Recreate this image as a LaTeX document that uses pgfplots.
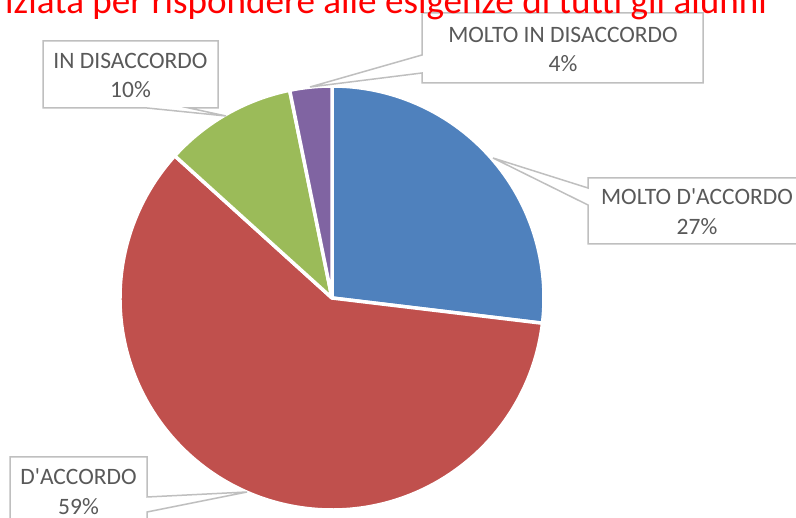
\documentclass[border=0pt]{standalone}
\usepackage{fontspec}
\setmainfont{Carlito}
\newfontfamily\labf{Carlito}
\usepackage{pgfplots}
\usepackage{pgfplotstable}
\pgfplotsset{compat=1.18}
\definecolor{blu}{HTML}{4F81BD}
\definecolor{rosso}{HTML}{C0504D}
\definecolor{verde}{HTML}{9BBB59}
\definecolor{viola}{HTML}{8064A2}
\definecolor{testo}{HTML}{595959}
\definecolor{bordo}{HTML}{BFBFBF}
\newcommand{\lab}{\labf\fontsize{23.5}{28}\selectfont}

% quote in percentuale, in senso orario dalle 12
\pgfplotstableread{
voce valore
MD  26.9
DA  59.8
ID  10.1
MID 3.2
}\torta
\pgfplotstablegetelem{0}{valore}\of\torta \let\vA\pgfplotsretval
\pgfplotstablegetelem{1}{valore}\of\torta \let\vB\pgfplotsretval
\pgfplotstablegetelem{2}{valore}\of\torta \let\vC\pgfplotsretval
\pgfplotstablegetelem{3}{valore}\of\torta \let\vD\pgfplotsretval
\def\cx{332}\def\cy{220}\def\R{212}
\pgfmathsetmacro{\aA}{90}
\pgfmathsetmacro{\aB}{\aA-3.6*\vA}
\pgfmathsetmacro{\aC}{\aB-3.6*\vB}
\pgfmathsetmacro{\aD}{\aC-3.6*\vC}
\pgfmathsetmacro{\aE}{\aD-3.6*\vD}
\pgfmathsetmacro{\xA}{\cx+\R*cos(\aA)}\pgfmathsetmacro{\yA}{\cy+\R*sin(\aA)}
\pgfmathsetmacro{\xB}{\cx+\R*cos(\aB)}\pgfmathsetmacro{\yB}{\cy+\R*sin(\aB)}
\pgfmathsetmacro{\xC}{\cx+\R*cos(\aC)}\pgfmathsetmacro{\yC}{\cy+\R*sin(\aC)}
\pgfmathsetmacro{\xD}{\cx+\R*cos(\aD)}\pgfmathsetmacro{\yD}{\cy+\R*sin(\aD)}

\begin{document}
\begin{tikzpicture}
\useasboundingbox (0,0) rectangle (796pt,518pt);
\clip (0,0) rectangle (796pt,518pt);
\begin{axis}[at={(0,0)},anchor=south west,width=796pt,height=518pt,scale only axis,
  xmin=0,xmax=796,ymin=0,ymax=518,hide axis,clip=false]
\addplot[fill=blu,draw=white,line width=3.5pt,line join=round] coordinates {(\cx,\cy) (\xA,\yA)} arc[start angle=\aA,end angle=\aB,radius=\R pt] -- cycle;
\addplot[fill=rosso,draw=white,line width=3.5pt,line join=round] coordinates {(\cx,\cy) (\xB,\yB)} arc[start angle=\aB,end angle=\aC,radius=\R pt] -- cycle;
\addplot[fill=verde,draw=white,line width=3.5pt,line join=round] coordinates {(\cx,\cy) (\xC,\yC)} arc[start angle=\aC,end angle=\aD,radius=\R pt] -- cycle;
\addplot[fill=viola,draw=white,line width=3.5pt,line join=round] coordinates {(\cx,\cy) (\xD,\yD)} arc[start angle=\aD,end angle=\aE,radius=\R pt] -- cycle;

% etichette a fumetto
\draw[bordo,line width=1.5pt,fill=white] (axis cs:422,435) -- (axis cs:422,445) -- (axis cs:310,431) -- (axis cs:422,463) -- (axis cs:422,505) -- (axis cs:703,505) -- (axis cs:703,435) -- cycle;
\draw[bordo,line width=1.5pt,fill=white] (axis cs:43,410) -- (axis cs:147,410) -- (axis cs:226,402) -- (axis cs:189,410) -- (axis cs:218,410) -- (axis cs:218,477) -- (axis cs:43,477) -- cycle;
\draw[bordo,line width=1.5pt,fill=white] (axis cs:588,274) -- (axis cs:588,313) -- (axis cs:493,360) -- (axis cs:588,330) -- (axis cs:588,340) -- (axis cs:806,340) -- (axis cs:806,274) -- cycle;
\draw[bordo,line width=1.5pt,fill=white] (axis cs:10,-19) -- (axis cs:147,-19) -- (axis cs:147,6) -- (axis cs:247,26) -- (axis cs:147,21) -- (axis cs:147,61) -- (axis cs:10,61) -- cycle;

\node[anchor=base,font=\lab,text=testo,inner sep=0] at (axis cs:563,475) {MOLTO IN DISACCORDO};
\node[anchor=base,font=\lab,text=testo,inner sep=0] at (axis cs:563,446) {4\%};
\node[anchor=base,font=\lab,text=testo,inner sep=0] at (axis cs:130.5,449) {IN DISACCORDO};
\node[anchor=base,font=\lab,text=testo,inner sep=0] at (axis cs:130.5,420) {10\%};
\node[anchor=base,font=\lab,text=testo,inner sep=0] at (axis cs:697,313) {MOLTO D'ACCORDO};
\node[anchor=base,font=\lab,text=testo,inner sep=0] at (axis cs:697,283) {27\%};
\node[anchor=base,font=\lab,text=testo,inner sep=0] at (axis cs:78.5,33) {D'ACCORDO};
\node[anchor=base,font=\lab,text=testo,inner sep=0] at (axis cs:78.5,3) {59\%};

\node[anchor=base west,font=\fontsize{37.1}{44}\selectfont,text=red,inner sep=0] at (axis cs:5,504) {iziata per rispondere alle esigenze di tutti gli alunni};
\end{axis}
\end{tikzpicture}
\end{document}
